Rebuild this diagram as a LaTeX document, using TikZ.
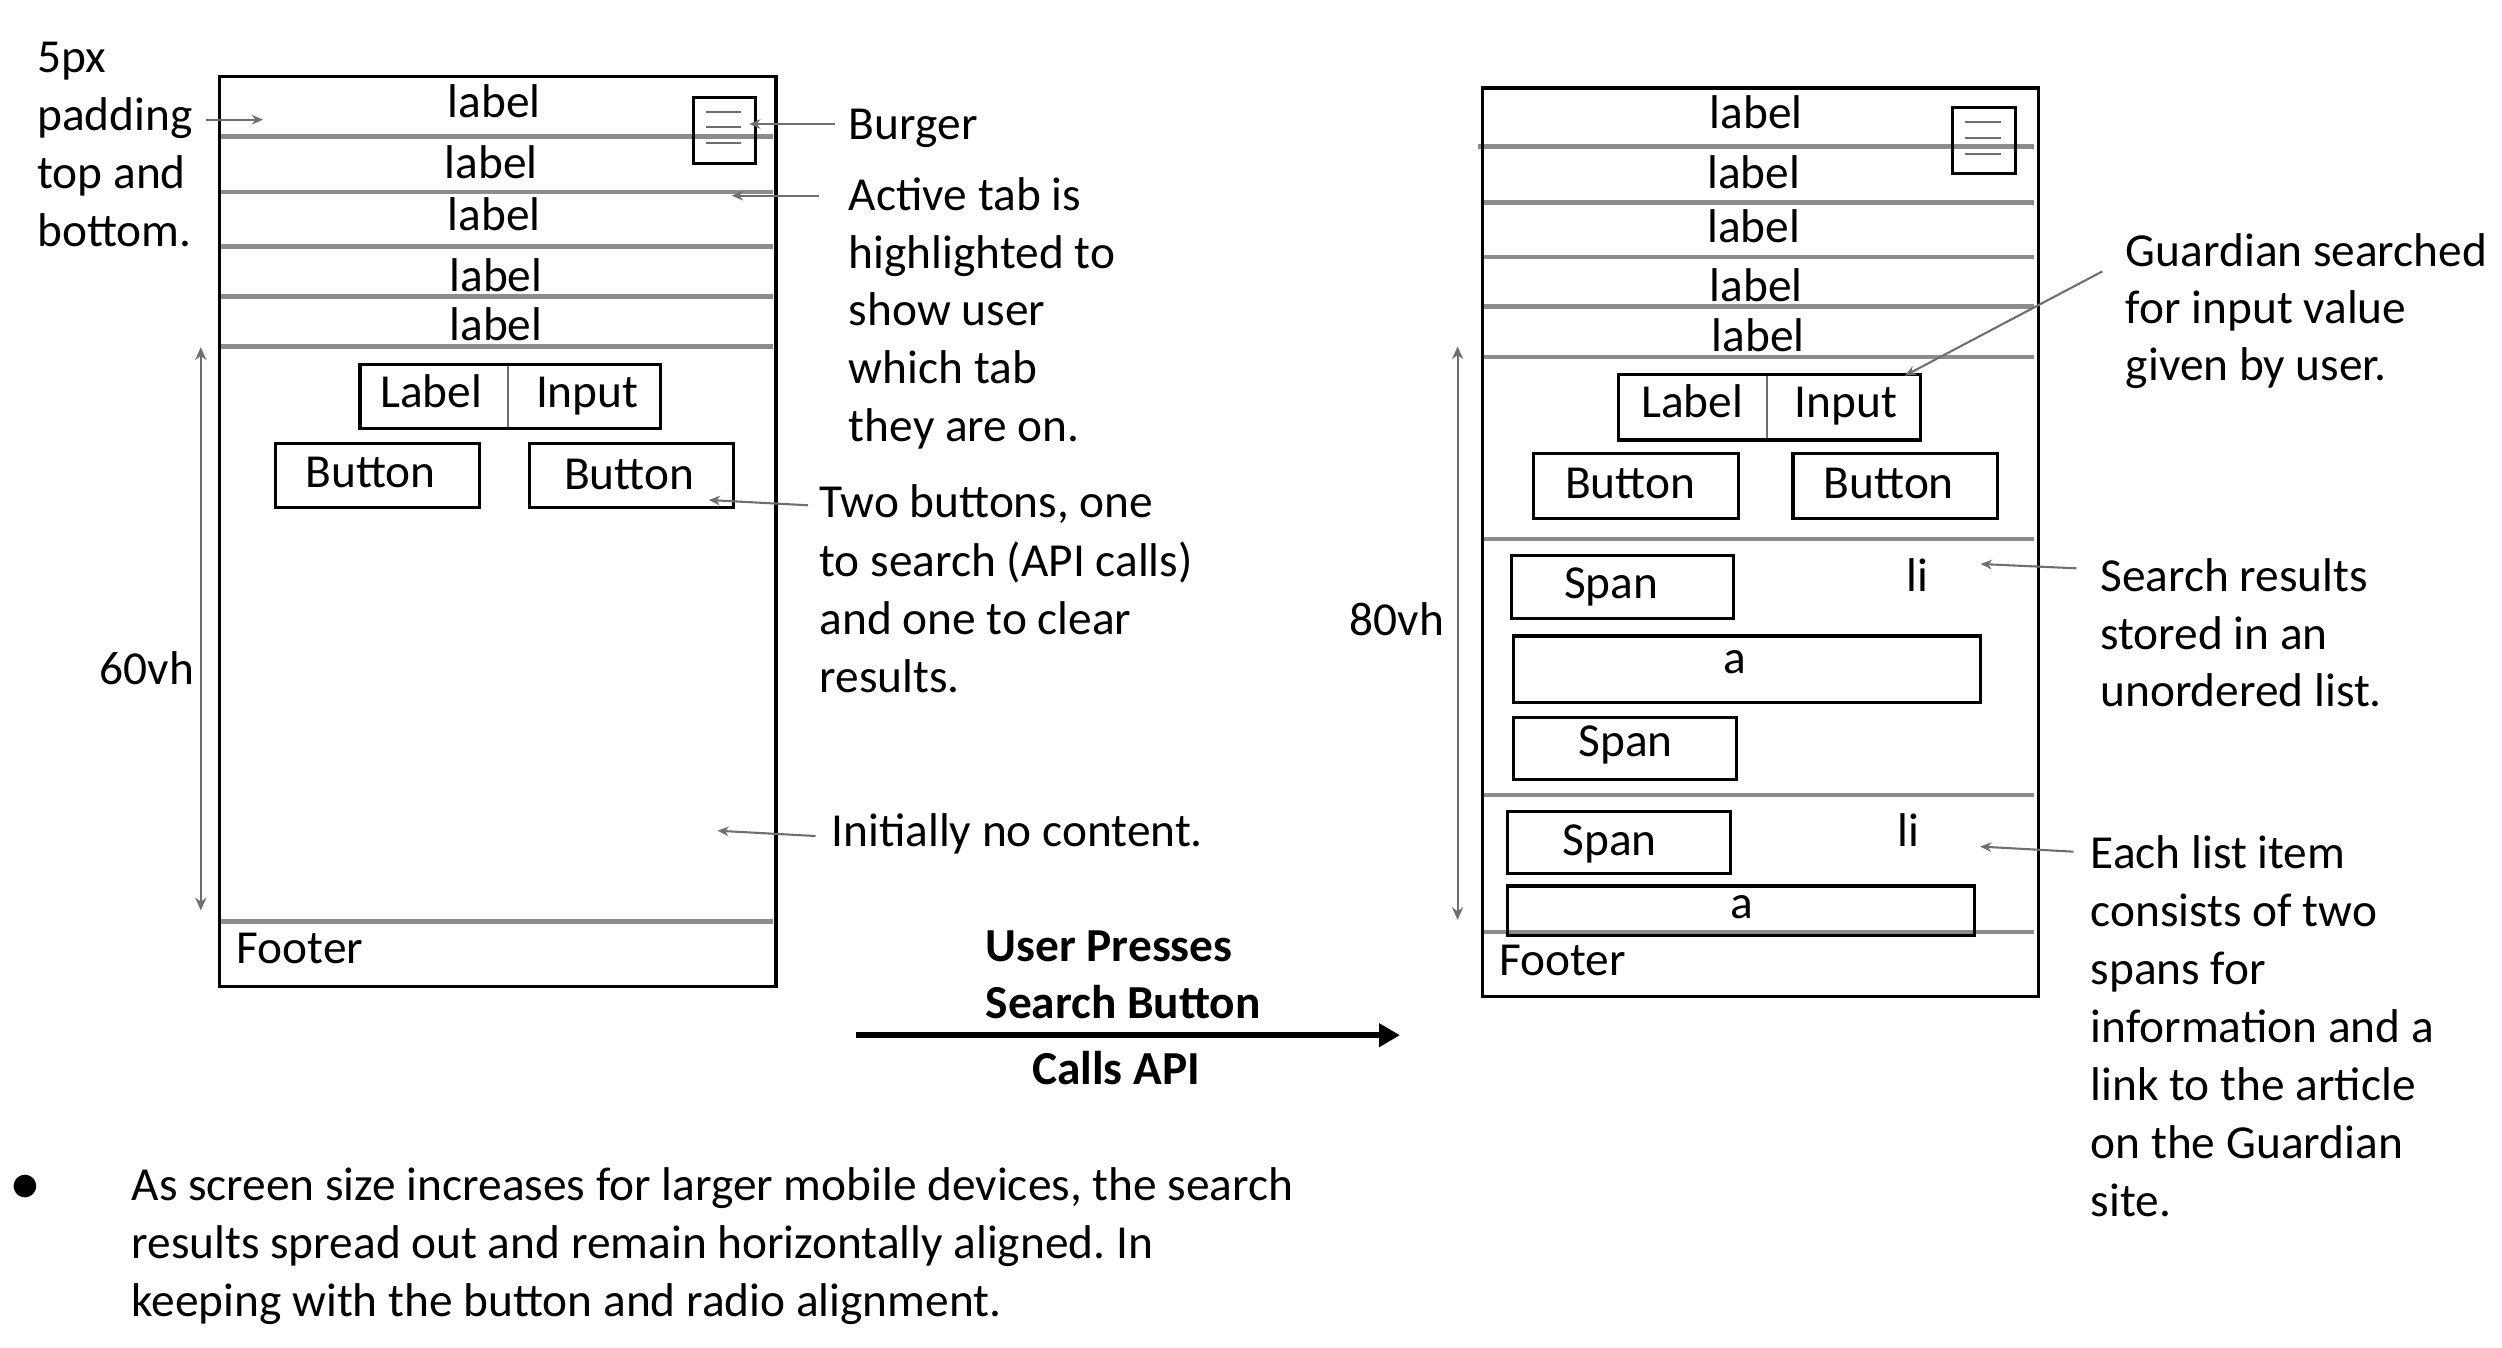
\documentclass[tikz,border=0pt]{standalone}
\usepackage{fontspec}
\setmainfont{Carlito}
\usetikzlibrary{arrows.meta}
\definecolor{sepgray}{RGB}{140,140,140}
\definecolor{arrgray}{RGB}{110,110,110}
\frenchspacing
\begin{document}
\begin{tikzpicture}[x=1pt,y=-1pt,
  txt/.style={inner sep=0pt, outer sep=0pt, font=\fontsize{29.6}{36.3}\selectfont},
  boldtxt/.style={inner sep=0pt, outer sep=0pt, font=\fontsize{29.6}{36.3}\selectfont\bfseries},
  frame/.style={draw=black, line width=1.9pt, inner sep=0pt, outer sep=0pt, anchor=north west},
  phone/.style={frame, line width=1.9pt},
  sepline/.style={draw=sepgray, line width=2.7pt},
  thinline/.style={draw=arrgray, line width=1.3pt},
  note/.style={draw=arrgray, line width=1.3pt, -{Stealth[length=7pt,width=6pt]}},
  dimline/.style={draw=arrgray, line width=1.2pt, {Stealth[length=8pt,width=7pt]}-{Stealth[length=8pt,width=7pt]}},
  bigarrow/.style={draw=black, line width=4pt, -{Triangle[length=13pt,width=14pt]}}
]
\useasboundingbox (0,0) rectangle (1563.75,842.5);

% ---------------- left phone ----------------
\foreach \yy in {85.3,119.9,154,185.3,216.5,576}
  \draw[sepline] (137,\yy) -- (483,\yy);
\node[phone, minimum width=348pt, minimum height=568.5pt] (lphone) at (137,48) {};
\node[frame, minimum width=38.8pt, minimum height=41pt] (lburger) at (433.5,61) {};
\foreach \yy in {69.8,79.5,89.6}
  \draw[thinline] (441,\yy) -- (463,\yy);
\node[txt, anchor=base] (ll1) at (309,73.7) {label};
\node[txt, anchor=base] (ll2) at (307,111.6) {label};
\node[txt, anchor=base] (ll3) at (309,144) {label};
\node[txt, anchor=base] (ll4) at (310,182) {label};
\node[txt, anchor=base] (ll5) at (310,213) {label};
\node[frame, minimum width=188pt, minimum height=40pt] (lli) at (225,228) {};
\draw[thinline] (317.5,229) -- (317.5,267);
\node[txt, anchor=base west] (llabel) at (237.7,254.5) {Label};
\node[txt, anchor=base west] (linput) at (335,254.5) {Input};
\node[frame, minimum width=127.5pt, minimum height=40pt] (lbtn1) at (172,277) {};
\node[frame, minimum width=127.5pt, minimum height=40pt] (lbtn2) at (331,277.2) {};
\node[txt, anchor=base] (lbt1) at (231.7,304.7) {Button};
\node[txt, anchor=base] (lbt2) at (393.2,306) {Button};
\node[txt, anchor=base west] (lfooter) at (148,602) {Footer};

\coordinate (ldimT) at (125.5,217);
\coordinate (ldimB) at (125.5,569);
\draw[dimline] (ldimT) -- (ldimB);
\node[txt, anchor=base west] (l60) at (62.3,428) {60vh};

\foreach \t [count=\i from 0] in {5px,padding,top and,bottom.}
  \node[txt, anchor=base west] (pad\i) at (23.4,{45.3+36.2*\i}) {\t};
\coordinate (padS) at (128.5,74.8);
\coordinate (padE) at (164.4,74.8);
\draw[note] (padS) -- (padE);

\node[txt, anchor=base west] (burgertxt) at (530.6,87) {Burger};
\coordinate (burgS) at (521.9,77.5);
\coordinate (burgE) at (468.3,77.5);
\draw[note] (burgS) -- (burgE);

\foreach \t [count=\i from 0] in {Active tab is,highlighted to,show user,which tab,they are on.}
  \node[txt, anchor=base west] (act\i) at (530.6,{131.7+36*\i}) {\t};
\coordinate (actS) at (512,122.3);
\coordinate (actE) at (457.4,122.3);
\draw[note] (actS) -- (actE);

\foreach \t [count=\i from 0] in {{Two buttons, one},{to search (API calls)},{and one to clear},{results.}}
  \node[txt, anchor=base west] (two\i) at (512.2,{323.7+36.3*\i}) {\t};
\coordinate (twoS) at (505,315.8);
\coordinate (twoE) at (443,312.5);
\draw[note] (twoS) -- (twoE);

\node[txt, anchor=base west] (initial) at (519.7,529) {Initially no content.};
\coordinate (iniS) at (509.7,522.5);
\coordinate (iniE) at (448.4,519.2);
\draw[note] (iniS) -- (iniE);

% ---------------- transition ----------------
\node[boldtxt, anchor=base west] (up1) at (616,601) {User Presses};
\node[boldtxt, anchor=base west] (up2) at (616,636.5) {Search Button};
\node[boldtxt, anchor=base west] (up3) at (645,678) {Calls API};
\coordinate (bigS) at (535,647);
\coordinate (bigE) at (875,647);
\draw[bigarrow] (bigS) -- (bigE);

% ---------------- bullet ----------------
\node[inner sep=0pt, outer sep=0pt, font=\fontsize{40}{40}\selectfont, anchor=base] (bullet) at (15.6,753) {•};
\foreach \t [count=\i from 0] in {{As screen size increases for larger mobile devices, the search},{results spread out and remain horizontally aligned. In},{keeping with the button and radio alignment.}}
  \node[txt, anchor=base west] (bl\i) at (82.3,{750+36.3*\i}) {\t};

% ---------------- right phone ----------------
\draw[sepline] (923.5,91.6) -- (1271,91.6);
\foreach \yy in {126.6,160.7,191.5,223.2,337,497,582.3}
  \draw[sepline] (927,\yy) -- (1271,\yy);
\node[phone, minimum width=347.3pt, minimum height=568pt] (rphone) at (926.7,55) {};
\node[frame, minimum width=39pt, minimum height=41.3pt] (rburger) at (1220.4,67) {};
\foreach \yy in {76.3,86.2,96}
  \draw[thinline] (1227.9,\yy) -- (1250.4,\yy);
\node[txt, anchor=base] (rl1) at (1097.6,80.4) {label};
\node[txt, anchor=base] (rl2) at (1096,117.6) {label};
\node[txt, anchor=base] (rl3) at (1096,151.3) {label};
\node[txt, anchor=base] (rl4) at (1097.6,188.6) {label};
\node[txt, anchor=base] (rl5) at (1099,219.9) {label};
\node[frame, minimum width=188.6pt, minimum height=41pt] (rli) at (1011.8,234) {};
\draw[thinline] (1104.6,235) -- (1104.6,274);
\node[txt, anchor=base west] (rlabel) at (1025.8,261) {Label};
\node[txt, anchor=base west] (rinput) at (1121.6,261) {Input};
\node[frame, minimum width=128.3pt, minimum height=40.5pt] (rbtn1) at (958.4,283.5) {};
\node[frame, minimum width=127.8pt, minimum height=40.5pt] (rbtn2) at (1120.6,283.5) {};
\node[txt, anchor=base] (rbt1) at (1018.8,311.4) {Button};
\node[txt, anchor=base] (rbt2) at (1180.5,311.4) {Button};

\node[frame, minimum width=138.3pt, minimum height=39.4pt] (span1) at (944.9,347.1) {};
\node[txt, anchor=base] (span1t) at (1007,374) {Span};
\node[txt, anchor=base west] (li1) at (1191.5,369.8) {li};
\node[frame, minimum width=291.9pt, minimum height=41.7pt] (a1) at (946,397.5) {};
\node[txt, anchor=base] (a1t) at (1084,420.8) {a};
\node[frame, minimum width=139.2pt, minimum height=38.7pt] (span2) at (946.2,448.7) {};
\node[txt, anchor=base] (span2t) at (1016,472.9) {Span};
\node[frame, minimum width=139.4pt, minimum height=38.5pt] (span3) at (941.9,507.3) {};
\node[txt, anchor=base] (span3t) at (1006,534.4) {Span};
\node[txt, anchor=base west] (li2) at (1185.8,529.2) {li};
\node[frame, minimum width=292.2pt, minimum height=30.65pt] (a2) at (941.9,553.75) {};
\node[txt, anchor=base] (a2t) at (1088.4,574) {a};
\node[txt, anchor=base west] (rfooter) at (936.9,609.4) {Footer};

\coordinate (rdimT) at (911,216.5);
\coordinate (rdimB) at (911,575);
\draw[dimline] (rdimT) -- (rdimB);
\node[txt, anchor=base west] (r80) at (843.6,396.9) {80vh};

\foreach \t [count=\i from 0] in {Guardian searched,for input value,given by user.}
  \node[txt, anchor=base west] (gu\i) at (1328.7,{166.3+35.7*\i}) {\t};
\coordinate (guS) at (1314,169.6);
\coordinate (guE) at (1190.5,234.8);
\draw[note] (guS) -- (guE);

\foreach \t [count=\i from 0] in {Search results,stored in an,unordered list.}
  \node[txt, anchor=base west] (sr\i) at (1312.7,{369.8+36*\i}) {\t};
\coordinate (srS) at (1297.8,355.2);
\coordinate (srE) at (1237.9,352.5);
\draw[note] (srS) -- (srE);

\foreach \t [count=\i from 0] in {Each list item,consists of two,spans for,information and a,link to the article,on the Guardian,site.}
  \node[txt, anchor=base west] (ea\i) at (1306.7,{542.7+36.3*\i}) {\t};
\coordinate (eaS) at (1296,532.3);
\coordinate (eaE) at (1237.6,529.1);
\draw[note] (eaS) -- (eaE);
\end{tikzpicture}
\end{document}
